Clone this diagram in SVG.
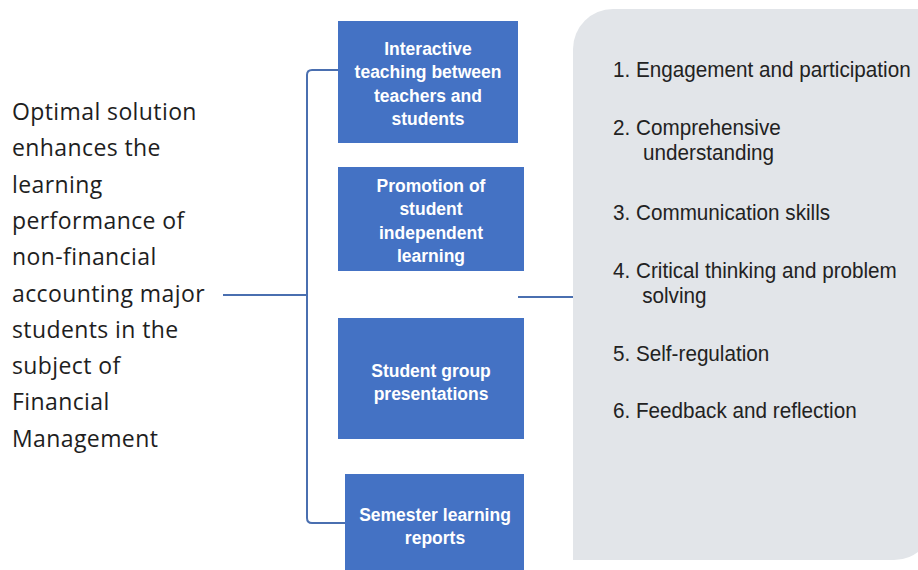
<svg xmlns="http://www.w3.org/2000/svg" width="918" height="570" viewBox="0 0 918 570">
  <style>
    .lead { font-family: "Open Sans", "Noto Sans", "Liberation Sans", sans-serif; font-size: 23px; letter-spacing: 0.4px; fill: #1e1e1e; }
    .box { fill: #4472c4; }
    .boxtxt { font-family: "Liberation Sans", Arial, sans-serif; font-size: 17.5px; font-weight: bold; fill: #ffffff; text-anchor: middle; }
    .panel { fill: #e2e5e9; }
    .item { font-family: "Liberation Sans", Arial, sans-serif; font-size: 22px; fill: #222222; }
    .wire { fill: none; stroke: #4a6fb0; stroke-width: 2; }
  </style>

  <rect width="918" height="570" fill="#ffffff"/>

  <!-- outcome panel: rounded top-left and bottom-right corners -->
  <g id="outcomes">
    <path class="panel" d="M573,560 L573,49 A40,40 0 0 1 613,9 L934,9 L934,520 A40,40 0 0 1 894,560 Z"/>
    <!-- list set in a slightly condensed face -->
    <g transform="translate(613,0) scale(0.94,1)">
      <text class="item" x="0" y="77">1. Engagement and participation</text>
      <text class="item" x="0" y="135">2. Comprehensive</text>
      <text class="item" x="32" y="160">understanding</text>
      <text class="item" x="0" y="220">3. Communication skills</text>
      <text class="item" x="0" y="278">4. Critical thinking and problem</text>
      <text class="item" x="31" y="303">solving</text>
      <text class="item" x="0" y="361">5. Self-regulation</text>
      <text class="item" x="0" y="418">6. Feedback and reflection</text>
    </g>
  </g>

  <g id="connectors">
    <path class="wire" d="M223,295 L307,295"/>
    <path class="wire" d="M338,70 L312,70 Q307,70 307,75 L307,518 Q307,523 312,523 L345,523"/>
    <path class="wire" d="M518,297 L573,297"/>
  </g>

  <g id="solution">
    <text class="lead" x="12" y="120">Optimal solution</text>
    <text class="lead" x="12" y="156">enhances the</text>
    <text class="lead" x="12" y="193">learning</text>
    <text class="lead" x="12" y="229">performance of</text>
    <text class="lead" x="12" y="265">non-financial</text>
    <text class="lead" x="12" y="302">accounting major</text>
    <text class="lead" x="12" y="338">students in the</text>
    <text class="lead" x="12" y="374">subject of</text>
    <text class="lead" x="12" y="410">Financial</text>
    <text class="lead" x="12" y="447">Management</text>
  </g>

  <g id="interactive-teaching">
    <rect class="box" x="338" y="21" width="180" height="122"/>
    <text class="boxtxt" x="428" y="55">Interactive</text>
    <text class="boxtxt" x="428" y="78">teaching between</text>
    <text class="boxtxt" x="428" y="102">teachers and</text>
    <text class="boxtxt" x="428" y="125">students</text>
  </g>

  <g id="independent-learning">
    <rect class="box" x="338" y="167" width="186" height="104"/>
    <text class="boxtxt" x="431" y="192">Promotion of</text>
    <text class="boxtxt" x="431" y="215">student</text>
    <text class="boxtxt" x="431" y="239">independent</text>
    <text class="boxtxt" x="431" y="262">learning</text>
  </g>

  <g id="group-presentations">
    <rect class="box" x="338" y="318" width="186" height="121"/>
    <text class="boxtxt" x="431" y="377">Student group</text>
    <text class="boxtxt" x="431" y="400">presentations</text>
  </g>

  <g id="learning-reports">
    <rect class="box" x="345" y="474" width="179" height="96"/>
    <text class="boxtxt" x="435" y="521">Semester learning</text>
    <text class="boxtxt" x="435" y="544">reports</text>
  </g>
</svg>
